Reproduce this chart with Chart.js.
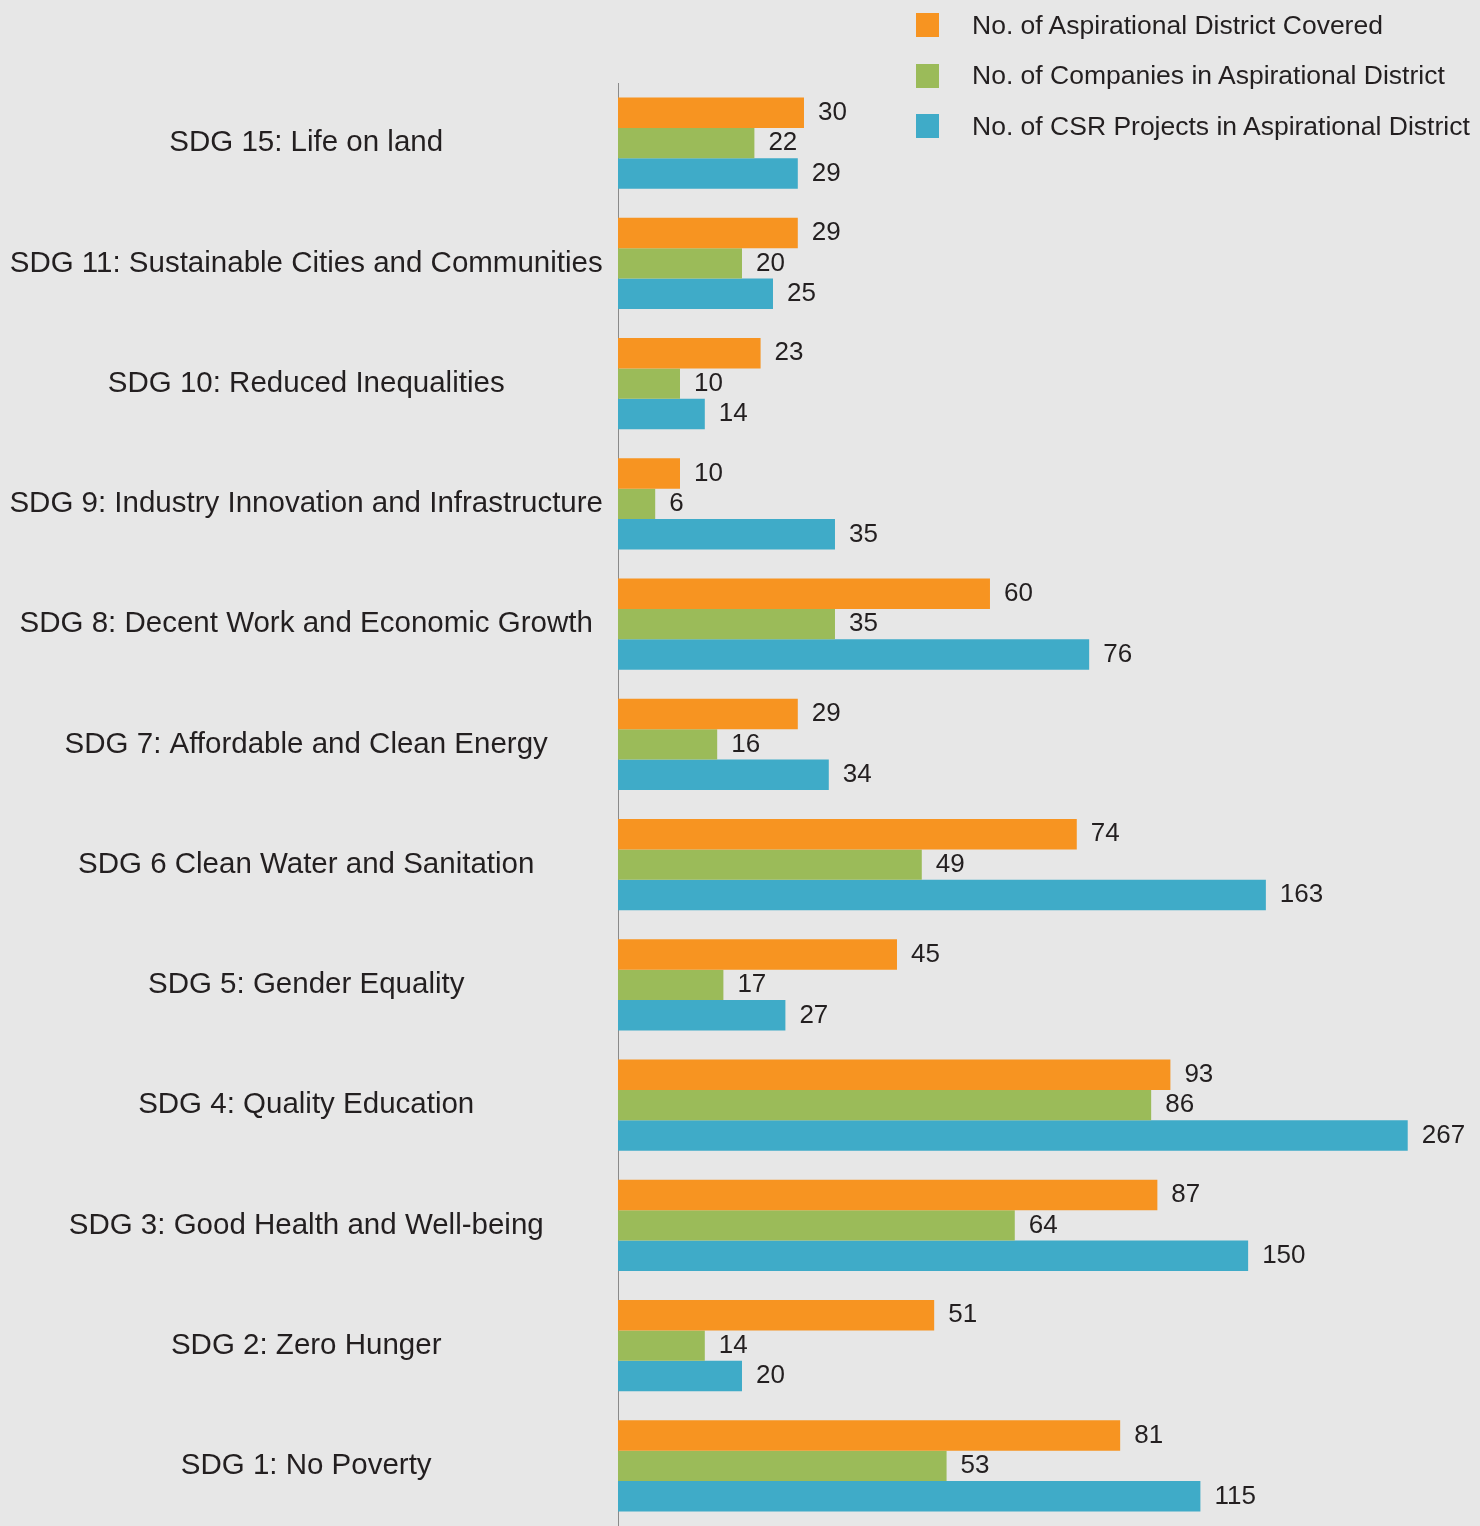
<!DOCTYPE html>
<html>
<head>
<meta charset="utf-8">
<script src="https://cdn.jsdelivr.net/npm/chart.js@4/dist/chart.umd.min.js"></script>
<style>
  html, body { margin: 0; padding: 0; background: #e7e7e7; }
  #wrap { position: relative; width: 1480px; height: 1526px; }
  #legend { position: absolute; left: 916px; top: 13px; font-family: "Liberation Sans", Arial, Helvetica, sans-serif; font-size: 26.5px; color: #231f20; }
  #legend .item { display: flex; align-items: center; height: 24px; margin-bottom: 26.5px; white-space: nowrap; }
  #legend .box { width: 23px; height: 24px; margin-right: 33px; }
</style>
</head>
<body>
<div id="wrap">
  <canvas id="chart" width="1480" height="1526"></canvas>
  <div id="legend"></div>
</div>
<script>
// categories, top to bottom
const categories = [
  'SDG 15: Life on land',
  'SDG 11: Sustainable Cities and Communities',
  'SDG 10: Reduced Inequalities',
  'SDG 9: Industry Innovation and Infrastructure',
  'SDG 8: Decent Work and Economic Growth',
  'SDG 7: Affordable and Clean Energy',
  'SDG 6 Clean Water and Sanitation',
  'SDG 5: Gender Equality',
  'SDG 4: Quality Education',
  'SDG 3: Good Health and Well-being',
  'SDG 2: Zero Hunger',
  'SDG 1: No Poverty'
];

const seriesNames = [
  'No. of Aspirational District Covered',
  'No. of Companies in Aspirational District',
  'No. of CSR Projects in Aspirational District'
];

const districtsCovered = [30, 29, 23, 10, 60, 29, 74, 45, 93, 87, 51, 81];
const companies        = [22, 20, 10, 6, 35, 16, 49, 17, 86, 64, 14, 53];
const csrProjects      = [29, 25, 14, 35, 76, 34, 163, 27, 267, 150, 20, 115];

const COLORS = ['#f79421', '#9bbb59', '#3fabc8'];
const FONT = '"Liberation Sans", Arial, Helvetica, sans-serif';
const TEXT = '#231f20';

// the original axis is squeezed above ~88 (long bars are shortened)
const BREAK = 88, SQUEEZE = 0.22;
const squeeze = v => v <= BREAK ? v : BREAK + (v - BREAK) * SQUEEZE;
const unsqueeze = u => u <= BREAK ? u : BREAK + (u - BREAK) / SQUEEZE;

class SqueezedScale extends Chart.LinearScale {
  getPixelForValue(value) {
    const lo = squeeze(this.min), hi = squeeze(this.max);
    return this.getPixelForDecimal((squeeze(value) - lo) / (hi - lo));
  }
  getValueForPixel(pixel) {
    const lo = squeeze(this.min), hi = squeeze(this.max);
    return unsqueeze(lo + this.getDecimalForPixel(pixel) * (hi - lo));
  }
}
SqueezedScale.id = 'squeezed';
SqueezedScale.defaults = Chart.LinearScale.defaults;
Chart.register(SqueezedScale);

// numbers at the end of each bar
const barValues = {
  id: 'barValues',
  afterDatasetsDraw(chart) {
    const ctx = chart.ctx;
    ctx.save();
    ctx.font = '26px ' + FONT;
    ctx.fillStyle = TEXT;
    ctx.textAlign = 'left';
    ctx.textBaseline = 'middle';
    chart.data.datasets.forEach((ds, i) => {
      chart.getDatasetMeta(i).data.forEach((bar, j) => {
        ctx.fillText(String(ds.data[j]), bar.x + 14, bar.y);
      });
    });
    ctx.restore();
  }
};

const datasets = [districtsCovered, companies, csrProjects].map((data, i) => ({
  label: seriesNames[i],
  data,
  backgroundColor: COLORS[i],
  borderWidth: 0,
  categoryPercentage: 0.76,
  barPercentage: 1.0
}));

new Chart(document.getElementById('chart'), {
  type: 'bar',
  data: { labels: categories, datasets },
  options: {
    indexAxis: 'y',
    responsive: false,
    animation: false,
    layout: { padding: { left: 10, top: 83, right: 0, bottom: 0 } },
    plugins: {
      legend: { display: false },
      tooltip: { enabled: false }
    },
    scales: {
      x: {
        type: 'squeezed',
        min: 0,
        max: 320,
        display: false
      },
      y: {
        grid: { display: false, drawTicks: false },
        border: { display: true, color: '#8a8a8a', width: 1 },
        afterFit(scale) {
          scale.width = 608;
          scale.paddingTop = 0;
          scale.paddingBottom = 0;
        },
        ticks: {
          autoSkip: false,
          crossAlign: 'center',
          padding: 15,
          color: TEXT,
          font: { family: FONT, size: 29.5 }
        }
      }
    }
  },
  plugins: [barValues]
});

// legend as a column in the top right corner
const legend = document.getElementById('legend');
seriesNames.forEach((name, i) => {
  const row = document.createElement('div');
  row.className = 'item';
  row.innerHTML = `<span class="box" style="background:${COLORS[i]}"></span><span>${name}</span>`;
  legend.appendChild(row);
});
</script>
</body>
</html>
